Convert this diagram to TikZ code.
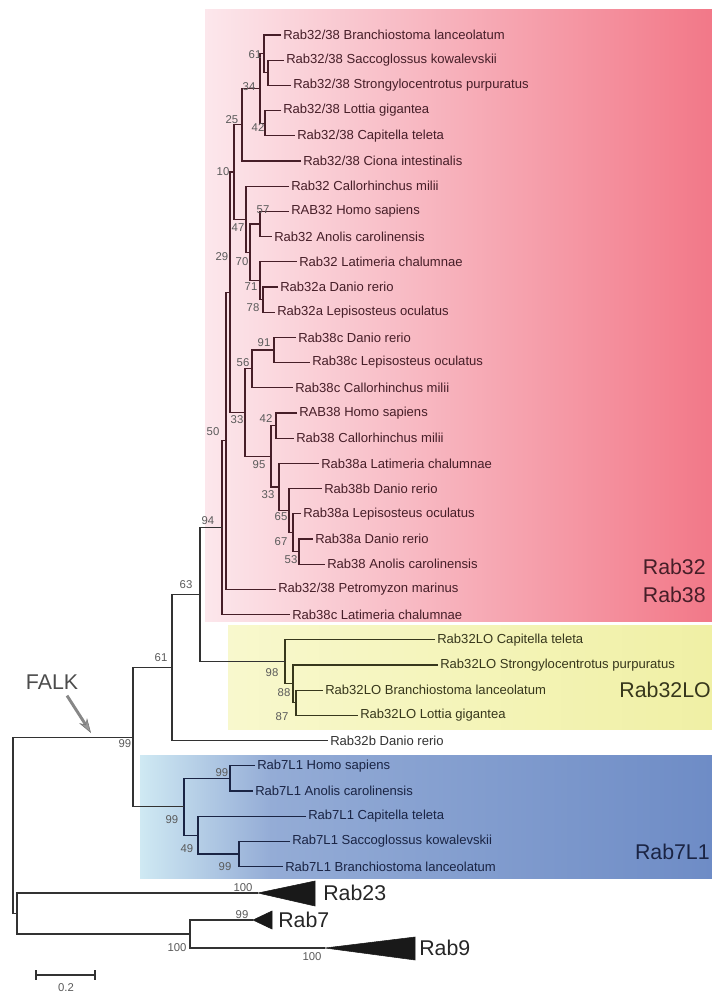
\documentclass[tikz,border=0pt]{standalone}
\usepackage{fontspec}
\setmainfont{Liberation Sans}
\usetikzlibrary{arrows.meta,calc}

\definecolor{pinkL}{RGB}{252,231,236}
\definecolor{pinkR}{RGB}{242,120,136}
\definecolor{yelL}{RGB}{248,248,205}
\definecolor{yelR}{RGB}{240,240,165}
\definecolor{bluL}{RGB}{207,233,243}
\definecolor{bluM}{RGB}{148,172,214}
\definecolor{bluR}{RGB}{110,140,198}
\definecolor{redink}{RGB}{70,30,40}
\definecolor{yelink}{RGB}{55,55,28}
\definecolor{bluink}{RGB}{26,36,68}
\definecolor{ink}{RGB}{50,50,50}
\definecolor{bootgray}{RGB}{90,90,90}
\definecolor{falkgray}{RGB}{135,135,135}

\begin{document}
\begin{tikzpicture}[x=0.75pt,y=0.75pt,yscale=-1,xscale=1,
  branch/.style={line width=0.85pt,draw=#1},
  branch/.default=ink,
  leaf/.style={anchor=west,inner sep=1.5pt,font=\fontsize{9.8}{11}\selectfont,text=#1},
  leaf/.default=ink,
  boot/.style={inner sep=0pt,font=\fontsize{8.5}{9}\selectfont,text=bootgray},
  grp/.style={inner sep=0pt,font=\fontsize{16}{18}\selectfont,text=#1},
  grp/.default=ink,
  clade/.style={fill=black!90,draw=black!90,line join=miter}]

\useasboundingbox (0,0) rectangle (712,993);

%Shape: Rectangle - clade backgrounds
\shade[left color=pinkL,right color=pinkR] (205,9) rectangle (712,621);
\shade[left color=yelL,right color=yelR] (228,625) rectangle (712,729);
\shade[left color=bluL,right color=bluM] (140,755) rectangle (271,878);
\shade[left color=bluM,right color=bluR] (270,755) rectangle (712,878);

% Text Node
\node[leaf=redink] (L1) at (281,35.0) {Rab32/38 Branchiostoma lanceolatum};
% Text Node
\node[leaf=redink] (L2) at (284,60.2) {Rab32/38 Saccoglossus kowalevskii};
% Text Node
\node[leaf=redink] (L3) at (291,85.4) {Rab32/38 Strongylocentrotus purpuratus};
% Text Node
\node[leaf=redink] (L4) at (281,110.6) {Rab32/38 Lottia gigantea};
% Text Node
\node[leaf=redink] (L5) at (295,135.8) {Rab32/38 Capitella teleta};
% Text Node
\node[leaf=redink] (L6) at (301,161.0) {Rab32/38 Ciona intestinalis};
% Text Node
\node[leaf=redink] (L7) at (289,186.2) {Rab32 Callorhinchus milii};
% Text Node
\node[leaf=redink] (L8) at (289,211.4) {RAB32 Homo sapiens};
% Text Node
\node[leaf=redink] (L9) at (272,236.6) {Rab32 Anolis carolinensis};
% Text Node
\node[leaf=redink] (L10) at (297,261.8) {Rab32 Latimeria chalumnae};
% Text Node
\node[leaf=redink] (L11) at (278,287.0) {Rab32a Danio rerio};
% Text Node
\node[leaf=redink] (L12) at (275,312.2) {Rab32a Lepisosteus oculatus};
% Text Node
\node[leaf=redink] (L13) at (296,337.4) {Rab38c Danio rerio};
% Text Node
\node[leaf=redink] (L14) at (310,362.6) {Rab38c Lepisosteus oculatus};
% Text Node
\node[leaf=redink] (L15) at (293,387.8) {Rab38c Callorhinchus milii};
% Text Node
\node[leaf=redink] (L16) at (297,413.0) {RAB38 Homo sapiens};
% Text Node
\node[leaf=redink] (L17) at (294,438.2) {Rab38 Callorhinchus milii};
% Text Node
\node[leaf=redink] (L18) at (319,463.4) {Rab38a Latimeria chalumnae};
% Text Node
\node[leaf=redink] (L19) at (322,488.6) {Rab38b Danio rerio};
% Text Node
\node[leaf=redink] (L20) at (301,513.8) {Rab38a Lepisosteus oculatus};
% Text Node
\node[leaf=redink] (L21) at (313,539.0) {Rab38a Danio rerio};
% Text Node
\node[leaf=redink] (L22) at (325,564.2) {Rab38 Anolis carolinensis};
% Text Node
\node[leaf=redink] (L23) at (276,589.4) {Rab32/38 Petromyzon marinus};
% Text Node
\node[leaf=redink] (L24) at (290,614.6) {Rab38c Latimeria chalumnae};
% Text Node
\node[leaf=yelink] (L25) at (435,639.8) {Rab32LO Capitella teleta};
% Text Node
\node[leaf=yelink] (L26) at (438,665.0) {Rab32LO Strongylocentrotus purpuratus};
% Text Node
\node[leaf=yelink] (L27) at (323,690.2) {Rab32LO Branchiostoma lanceolatum};
% Text Node
\node[leaf=yelink] (L28) at (358,715.4) {Rab32LO Lottia gigantea};
% Text Node
\node[leaf] (L29) at (328,740.6) {Rab32b Danio rerio};
% Text Node
\node[leaf=bluink] (L30) at (255,765.8) {Rab7L1 Homo sapiens};
% Text Node
\node[leaf=bluink] (L31) at (253,791.0) {Rab7L1 Anolis carolinensis};
% Text Node
\node[leaf=bluink] (L32) at (306,816.2) {Rab7L1 Capitella teleta};
% Text Node
\node[leaf=bluink] (L33) at (290,841.4) {Rab7L1 Saccoglossus kowalevskii};
% Text Node
\node[leaf=bluink] (L34) at (283,866.6) {Rab7L1 Branchiostoma lanceolatum};

%Internal nodes
\coordinate (nY) at (268,72.8);
\coordinate (n61) at (264,53.9);
\coordinate (n42) at (265,123.2);
\coordinate (n34) at (260,88.55);
\coordinate (n25) at (242,124.8);
\coordinate (n57) at (260,224.0);
\coordinate (n78) at (263,299.6);
\coordinate (n71) at (260,280.7);
\coordinate (n70) at (250,252.35);
\coordinate (n47) at (246,219.3);
\coordinate (n10) at (234,172.0);
\coordinate (n91) at (274,350.0);
\coordinate (n56) at (252,368.9);
\coordinate (n42b) at (276,425.6);
\coordinate (n53) at (299,551.6);
\coordinate (n67) at (293,532.7);
\coordinate (n65) at (289,510.65);
\coordinate (n33b) at (279,487.0);
\coordinate (n95) at (271,456.3);
\coordinate (n33a) at (245,412.6);
\coordinate (n29) at (230,292.3);
\coordinate (n50) at (226,440.85);
\coordinate (n94) at (222,527.7);
\coordinate (n87) at (296,702.8);
\coordinate (n88) at (293,683.9);
\coordinate (n98) at (285,661.85);
\coordinate (n63) at (200,594.8);
\coordinate (n61b) at (172,667.7);
\coordinate (n99a) at (230,778.4);
\coordinate (n99c) at (239,854.0);
\coordinate (n49) at (198,835.1);
\coordinate (n99b) at (184,806.75);
\coordinate (n99m) at (133,737.2);
\coordinate (t23) at (258,893);
\coordinate (t7) at (253,920);
\coordinate (t9) at (325,948);
\coordinate (n100) at (190,934);
\coordinate (nout) at (17,913.5);
\coordinate (root) at (13,825.35);

%Branches
\draw[branch=redink] (L2.west) -| (nY) |- (L3.west);
\draw[branch=redink] (L1.west) -| (n61) |- (nY);
\draw[branch=redink] (L4.west) -| (n42) |- (L5.west);
\draw[branch=redink] (n61) -| (n34) |- (n42);
\draw[branch=redink] (n34) -| (n25) |- (L6.west);
\draw[branch=redink] (L8.west) -| (n57) |- (L9.west);
\draw[branch=redink] (L11.west) -| (n78) |- (L12.west);
\draw[branch=redink] (L10.west) -| (n71) |- (n78);
\draw[branch=redink] (n57) -| (n70) |- (n71);
\draw[branch=redink] (L7.west) -| (n47) |- (n70);
\draw[branch=redink] (n25) -| (n10) |- (n47);
\draw[branch=redink] (L13.west) -| (n91) |- (L14.west);
\draw[branch=redink] (n91) -| (n56) |- (L15.west);
\draw[branch=redink] (L16.west) -| (n42b) |- (L17.west);
\draw[branch=redink] (L21.west) -| (n53) |- (L22.west);
\draw[branch=redink] (L20.west) -| (n67) |- (n53);
\draw[branch=redink] (L19.west) -| (n65) |- (n67);
\draw[branch=redink] (L18.west) -| (n33b) |- (n65);
\draw[branch=redink] (n42b) -| (n95) |- (n33b);
\draw[branch=redink] (n56) -| (n33a) |- (n95);
\draw[branch=redink] (n10) -| (n29) |- (n33a);
\draw[branch=redink] (n29) -| (n50) |- (L23.west);
\draw[branch=redink] (n50) -| (n94) |- (L24.west);
\draw[branch=yelink] (L27.west) -| (n87) |- (L28.west);
\draw[branch=yelink] (L26.west) -| (n88) |- (n87);
\draw[branch=yelink] (L25.west) -| (n98) |- (n88);
\draw[branch] (n94) -| (n63) |- (n98);
\draw[branch] (n63) -| (n61b) |- (L29.west);
\draw[branch=bluink] (L30.west) -| (n99a) |- (L31.west);
\draw[branch=bluink] (L33.west) -| (n99c) |- (L34.west);
\draw[branch=bluink] (L32.west) -| (n49) |- (n99c);
\draw[branch=bluink] (n99a) -| (n99b) |- (n49);
\draw[branch] (n61b) -| (n99m) |- (n99b);
\draw[branch] (t7) -| (n100) |- (t9);
\draw[branch] (t23) -| (nout) |- (n100);
\draw[branch] (n99m) -| (root) |- (nout);

%Collapsed clades
\fill[clade] (t23) -- ++(57,-12) -- ++(0,25) -- cycle;
\fill[clade] (t7) -- ++(19,-9) -- ++(0,18) -- cycle;
\fill[clade] (t9) -- ++(90,-11) -- ++(0,23) -- cycle;

% Bootstrap values
\node[boot] (b1) at (255,55) {61};
\node[boot] (b2) at (249,87) {34};
\node[boot] (b3) at (258,128) {42};
\node[boot] (b4) at (232,120) {25};
\node[boot] (b5) at (223,172) {10};
\node[boot] (b6) at (263,210) {57};
\node[boot] (b7) at (238,228) {47};
\node[boot] (b8) at (242,262) {70};
\node[boot] (b9) at (251,287) {71};
\node[boot] (b10) at (253,308) {78};
\node[boot] (b11) at (222,257) {29};
\node[boot] (b12) at (264,343) {91};
\node[boot] (b13) at (243,363) {56};
\node[boot] (b14) at (237,420) {33};
\node[boot] (b15) at (266,419) {42};
\node[boot] (b16) at (259,465) {95};
\node[boot] (b17) at (268,495) {33};
\node[boot] (b18) at (281,517) {65};
\node[boot] (b19) at (281,542) {67};
\node[boot] (b20) at (291,560) {53};
\node[boot] (b21) at (213,432) {50};
\node[boot] (b22) at (208,521) {94};
\node[boot] (b23) at (186,585) {63};
\node[boot] (b24) at (272,673) {98};
\node[boot] (b25) at (284,693) {88};
\node[boot] (b26) at (282,717) {87};
\node[boot] (b27) at (161,658) {61};
\node[boot] (b28) at (125,744) {99};
\node[boot] (b29) at (222,773) {99};
\node[boot] (b30) at (172,820) {99};
\node[boot] (b31) at (187,849) {49};
\node[boot] (b32) at (225,867) {99};
\node[boot] (b33) at (243,888) {100};
\node[boot] (b34) at (242,915) {99};
\node[boot] (b35) at (177,948) {100};
\node[boot] (b36) at (312,957) {100};

% Group labels
\node[grp=redink,anchor=east] (g32) at (706,567) {Rab32};
\node[grp=redink,anchor=east] (g38) at (706,595) {Rab38};
\node[grp=yelink,anchor=east] (g32lo) at (711,690) {Rab32LO};
\node[grp=bluink,anchor=east] (g7l1) at (710,852) {Rab7L1};
\node[grp=black!85,anchor=west] (g23) at (323,893) {Rab23};
\node[grp=black!85,anchor=west] (g7) at (278,920) {Rab7};
\node[grp=black!85,anchor=west] (g9) at (419,948) {Rab9};

% FALK marker
\node[grp=black!70] (falk) at (52,682) {FALK};
\coordinate (falktip) at (91,733);
\draw[line width=2.2pt,draw=falkgray,-{Stealth[length=11pt,width=7pt,fill=falkgray!85,color=black!55,line width=0.4pt]}] ($(falk.south)+(15,6)$) -- (falktip);

% Scale bar
\coordinate (sb1) at (36,975);
\coordinate (sb2) at (95,975);
\draw[line width=1.4pt,draw=ink] (sb1) -- (sb2);
\draw[line width=1pt,draw=ink] ($(sb1)+(0,-5)$) -- ($(sb1)+(0,5)$);
\draw[line width=1pt,draw=ink] ($(sb2)+(0,-5)$) -- ($(sb2)+(0,5)$);
\node[boot] (sblab) at (66,988) {0.2};

\end{tikzpicture}
\end{document}
